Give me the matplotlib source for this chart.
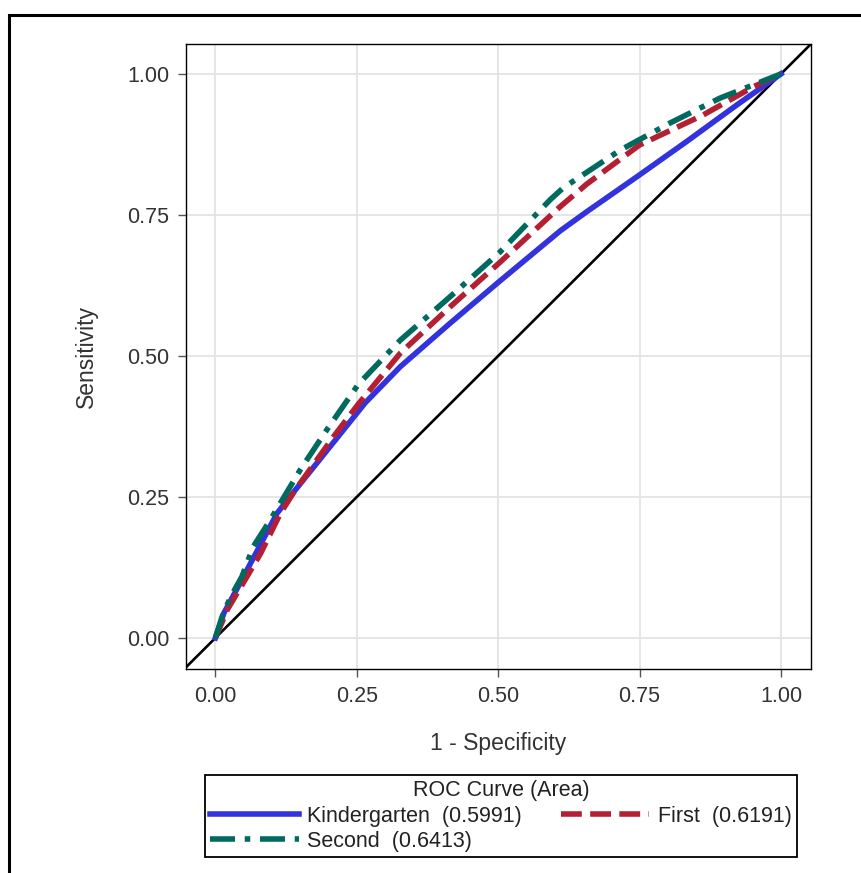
import matplotlib.pyplot as plt
from matplotlib.patches import Rectangle

plt.rcParams["font.family"] = ["Liberation Sans", "DejaVu Sans"]
plt.rcParams["lines.scale_dashes"] = False

# ROC points (1 - specificity, sensitivity)
kinder_x = [0, 0.015, 0.044, 0.109, 0.141, 0.221, 0.265, 0.327, 0.415, 0.502,
            0.61, 0.657, 0.75, 0.833, 0.922, 1.0]
kinder_y = [0, 0.044, 0.098, 0.221, 0.262, 0.362, 0.417, 0.481, 0.558, 0.632,
            0.722, 0.756, 0.821, 0.880, 0.945, 1.0]
first_x = [0, 0.021, 0.056, 0.08, 0.115, 0.141, 0.209, 0.253, 0.327, 0.415,
           0.502, 0.61, 0.657, 0.75, 0.862, 0.951, 1.0]
first_y = [0, 0.05, 0.109, 0.15, 0.221, 0.262, 0.357, 0.415, 0.505, 0.587,
           0.665, 0.765, 0.805, 0.874, 0.927, 0.977, 1.0]
second_x = [0, 0.012, 0.026, 0.047, 0.067, 0.097, 0.15, 0.197, 0.253, 0.327,
            0.415, 0.502, 0.592, 0.615, 0.716, 0.804, 0.892, 1.0]
second_y = [0, 0.038, 0.071, 0.109, 0.162, 0.209, 0.298, 0.369, 0.45, 0.528,
            0.605, 0.683, 0.777, 0.798, 0.865, 0.913, 0.957, 1.0]

labels = ["Kindergarten  (0.5991)", "First  (0.6191)", "Second  (0.6413)"]
ticks = [0.0, 0.25, 0.50, 0.75, 1.00]
tick_labels = ["0.00", "0.25", "0.50", "0.75", "1.00"]

fig = plt.figure(figsize=(8.61, 8.73), dpi=100)
ax = fig.add_axes([0.216, 0.2337, 0.7259, 0.7159])

ax.axline((0, 0), (1, 1), color="black", lw=1.9, zorder=2)
h_k, = ax.plot(kinder_x, kinder_y, color="#3333dd", lw=4, label=labels[0], zorder=3)
h_f, = ax.plot(first_x, first_y, color="#b41f32", lw=4, dashes=(15, 6),
               label=labels[1], zorder=4)
h_s, = ax.plot(second_x, second_y, color="#006a5e", lw=4, dashes=(18, 7, 4, 7),
               label=labels[2], zorder=5)

ax.set_xlim(-0.052, 1.053)
ax.set_ylim(-0.055, 1.053)
ax.set_xticks(ticks, tick_labels)
ax.set_yticks(ticks, tick_labels)
ax.grid(True, color="#e4e4e4", lw=1.3)
ax.set_axisbelow(True)
ax.tick_params(labelsize=15.5, color="#555555", length=6, width=1, colors="#333333", pad=6)
for sp in ax.spines.values():
    sp.set_linewidth(1.0)
    sp.set_color("black")
ax.set_xlabel("1 - Specificity", fontsize=16.5, color="#333333", labelpad=18)
ax.set_ylabel("Sensitivity", fontsize=16.5, color="#333333", labelpad=21)

# legend: row 1 Kindergarten / First, row 2 Second
leg = fig.legend([h_k, h_s, h_f], [labels[0], labels[2], labels[1]],
                 ncol=2, loc="upper left", mode="expand",
                 bbox_to_anchor=(205 / 861, 1 - 858 / 873, 592 / 861, 83 / 873),
                 title="ROC Curve (Area)", fontsize=15.5, title_fontsize=15.5,
                 frameon=True, fancybox=False, edgecolor="black", framealpha=1,
                 handlelength=4.1, handletextpad=0.4, borderaxespad=0,
                 borderpad=0.25, labelspacing=0.2, columnspacing=1.0)
leg.get_frame().set_linewidth(1.3)
for t in leg.get_texts():
    t.set_color("#222222")
leg.get_title().set_color("#222222")

# outer frame around the graph
fig.patches.append(Rectangle((9 / 861, -0.1), 1.2, 1.1 - 15 / 873,
                             transform=fig.transFigure, fill=False,
                             edgecolor="black", lw=2.2))

fig.savefig("out.png", dpi=100)
